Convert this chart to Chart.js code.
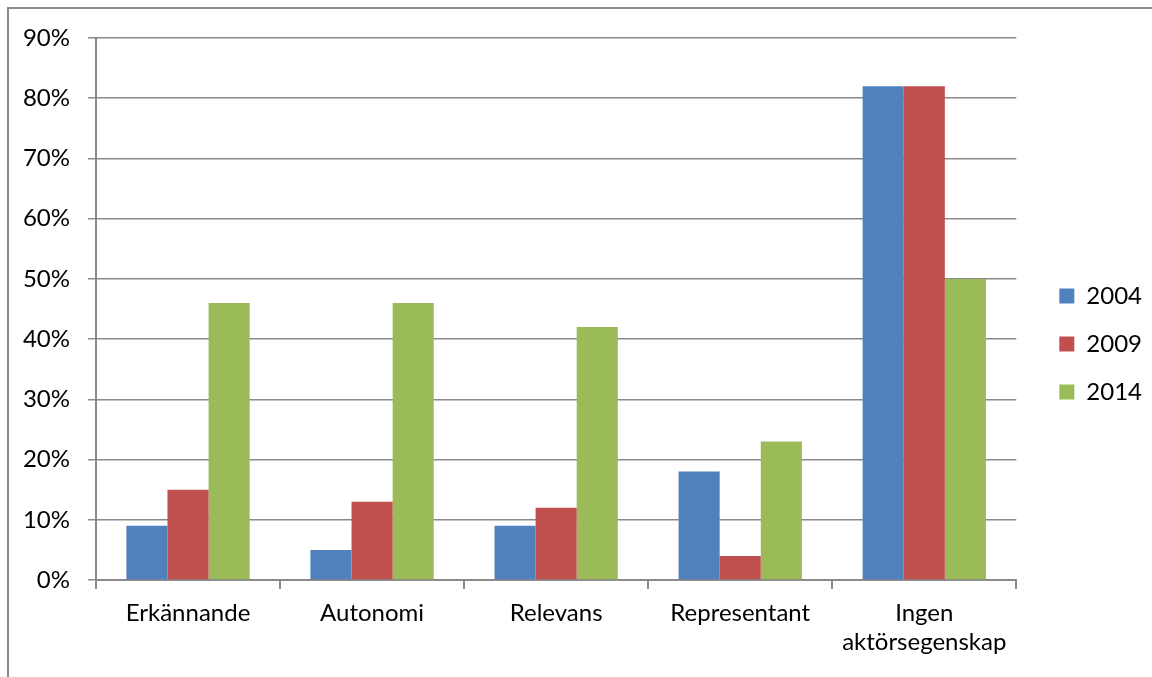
<!DOCTYPE html>
<html>
<head>
<meta charset="utf-8">
<script src="https://cdn.jsdelivr.net/npm/chart.js@4.4.0/dist/chart.umd.min.js"></script>
<style>
    html, body { margin: 0; padding: 0; background: #fff; }
    #wrap { position: relative; width: 1152px; height: 677px; overflow: hidden; }
    #marco { position: absolute; left: 7px; top: 7px; width: 1200px; height: 700px;
             border-left: 2px solid #8a8a8a; border-top: 2px solid #8a8a8a; }
    #grafico { position: absolute; left: 0; top: 0; }
</style>
</head>
<body>
<div id="wrap">
    <div id="marco"></div>
    <canvas id="grafico" width="1152" height="677"></canvas>
</div>
<script>
const categorias = ['Erkännande', 'Autonomi', 'Relevans', 'Representant', ['Ingen', 'aktörsegenskap']];
const anios = ['2004', '2009', '2014'];
const valores2004 = [9, 5, 9, 18, 82];
const valores2009 = [15, 13, 12, 4, 82];
const valores2014 = [46, 46, 42, 23, 50];
const ticksY = [0, 10, 20, 30, 40, 50, 60, 70, 80, 90];
const colores = ['#4F81BD', '#C0504D', '#9BBB59'];

document.addEventListener('DOMContentLoaded', function() {
    dibujarGrafico();
});

function dibujarGrafico() {
    const ctx = document.getElementById('grafico').getContext('2d');
    const series = [valores2004, valores2009, valores2014];

    const datasets = anios.map((anio, i) => {
        return {
            label: anio,
            data: series[i],
            backgroundColor: colores[i],
            borderWidth: 0,
            categoryPercentage: 0.67,
            barPercentage: 1.0
        };
    });

    // mover la leyenda como en Excel
    const ajusteLeyenda = {
        id: 'ajusteLeyenda',
        afterLayout(chart) {
            const l = chart.legend;
            l.left += 19;
            l.right += 19;
            l.top = 8;
            l.bottom = 680;
        }
    };

    const gris = '#8a8a8a';
    const fuente = { family: 'Lato', size: 24 };

    new Chart(ctx, {
        type: 'bar',
        data: {
            labels: categorias,
            datasets: datasets
        },
        options: {
            responsive: false,
            animation: false,
            layout: { padding: { left: 10, top: 38, right: 19, bottom: 0 } },
            plugins: {
                legend: {
                    position: 'right',
                    labels: {
                        boxWidth: 15,
                        boxHeight: 15,
                        padding: 24,
                        color: '#000',
                        font: fuente
                    }
                },
                tooltip: { enabled: false }
            },
            scales: {
                x: {
                    grid: {
                        offset: true,
                        drawOnChartArea: false,
                        drawTicks: true,
                        tickLength: 9,
                        color: gris,
                        lineWidth: 2
                    },
                    border: { color: gris, width: 2 },
                    ticks: { color: '#000', font: fuente, padding: 10, maxRotation: 0 },
                    afterFit: function(scale) { scale.height = 97; }
                },
                y: {
                    min: 0,
                    max: 90,
                    afterBuildTicks: function(scale) {
                        scale.ticks = ticksY.map(v => ({ value: v }));
                    },
                    grid: {
                        color: gris,
                        lineWidth: 1.5,
                        tickLength: 8
                    },
                    border: { color: gris, width: 2 },
                    ticks: {
                        color: '#000',
                        font: fuente,
                        padding: 18,
                        callback: v => v + '%'
                    },
                    afterFit: function(scale) { scale.width = 86; }
                }
            }
        },
        plugins: [ajusteLeyenda]
    });
}
</script>
</body>
</html>
